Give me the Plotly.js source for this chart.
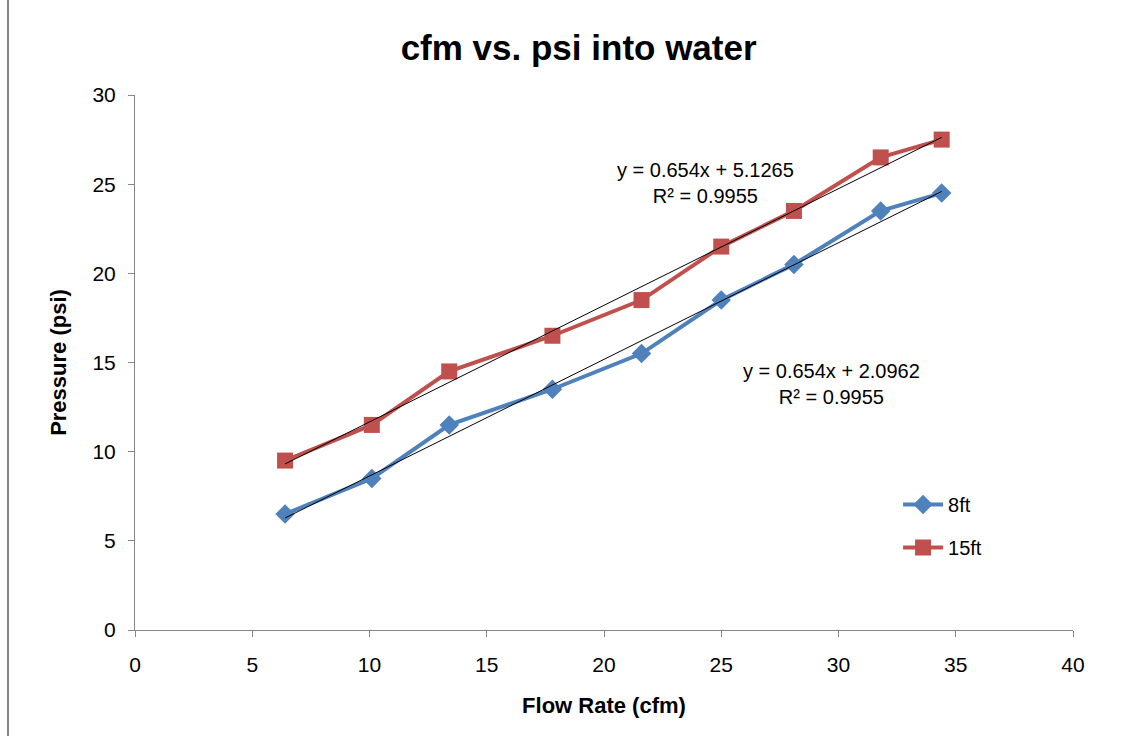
<!DOCTYPE html>
<html>
<head>
<meta charset="utf-8">
<script src="https://cdn.plot.ly/plotly-3.0.1.min.js"></script>
<style>html,body{margin:0;padding:0;background:#fff;}#chart{width:1139px;height:736px;}</style>
</head>
<body>
<div id="chart"></div>
<script>
const flowRate = [6.4, 10.1, 13.4, 17.8, 21.6, 25.0, 28.1, 31.8, 34.4];
const pressure8ft = [6.5, 8.5, 11.5, 13.5, 15.5, 18.5, 20.5, 23.5, 24.5];
const pressure15ft = [9.5, 11.5, 14.5, 16.5, 18.5, 21.5, 23.5, 26.5, 27.5];
const seriesNames = ["8ft", "15ft"];
const trendSlopes = [0.654, 0.654];
const trendIntercepts = [2.0962, 5.1265];
const trendR2 = [0.9955, 0.9955];

const xMin = Math.min(...flowRate), xMax = Math.max(...flowRate);
const trendX = [xMin, xMax];
const fontFam = "Liberation Sans, Arial, sans-serif";

const traces = [
  {x: flowRate, y: pressure8ft, name: seriesNames[0], legendgroup: 'a', mode: 'lines+markers', line: {color: '#4F81BD', width: 4}, marker: {symbol: 'diamond', size: 15, color: '#4F81BD'}},
  {x: flowRate, y: pressure15ft, name: seriesNames[1], legendgroup: 'b', mode: 'lines+markers', line: {color: '#C0504D', width: 4}, marker: {symbol: 'square', size: 16, color: '#C0504D'}},
  {x: trendX, y: trendX.map(v => trendSlopes[1]*v + trendIntercepts[1]), mode: 'lines', line: {color: '#000', width: 1}, showlegend: false, hoverinfo: 'skip'},
  {x: trendX, y: trendX.map(v => trendSlopes[0]*v + trendIntercepts[0]), mode: 'lines', line: {color: '#000', width: 1}, showlegend: false, hoverinfo: 'skip'}
];

const eq = (i) => `y = ${trendSlopes[i]}x + ${trendIntercepts[i]}<br>R² = ${trendR2[i]}`;

const layout = {
  width: 1139, height: 736,
  margin: {l: 135, r: 66, t: 95, b: 106},
  paper_bgcolor: '#fff', plot_bgcolor: '#fff',
  font: {family: fontFam, color: '#000', size: 20},
  title: {text: '<b>cfm vs. psi into water</b>', x: 0.508, xanchor: 'center', y: 0.935, yanchor: 'middle', font: {size: 35, family: fontFam}},
  xaxis: {range: [0, 40], dtick: 5, showgrid: false, zeroline: false, showline: true, linecolor: '#868686', linewidth: 1,
    ticks: 'outside', ticklen: 6, tickcolor: '#868686', tickfont: {size: 21}, ticklabelstandoff: 10,
    title: {text: '<b>Flow Rate (cfm)</b>', font: {size: 22}, standoff: 22}},
  yaxis: {range: [0, 30], dtick: 5, showgrid: false, zeroline: false, showline: true, linecolor: '#868686', linewidth: 1,
    ticks: 'outside', ticklen: 6, tickcolor: '#868686', tickfont: {size: 21}, ticklabelstandoff: 8,
    title: {text: '<b>Pressure (psi)</b>', font: {size: 22}, standoff: 19}},
  legend: {x: 0.8135, y: 0.271, xanchor: 'left', yanchor: 'top', font: {size: 20}, tracegroupgap: 14, itemwidth: 40, bgcolor: 'rgba(0,0,0,0)'},
  annotations: [
    {xref: 'paper', yref: 'paper', x: (705-135)/938, y: (630-183)/535, text: eq(1), showarrow: false, font: {size: 20}, align: 'center', xanchor: 'center', yanchor: 'middle'},
    {xref: 'paper', yref: 'paper', x: (831-135)/938, y: (630-384)/535, text: eq(0), showarrow: false, font: {size: 20}, align: 'center', xanchor: 'center', yanchor: 'middle'}
  ],
  shapes: [
    {type: 'line', xref: 'paper', yref: 'paper', x0: (8-135)/938, x1: (8-135)/938, y0: -0.3, y1: 1.3, line: {color: '#868686', width: 2}}
  ],
  showlegend: true
};

Plotly.newPlot('chart', traces, layout, {staticPlot: true});
</script>
</body>
</html>
